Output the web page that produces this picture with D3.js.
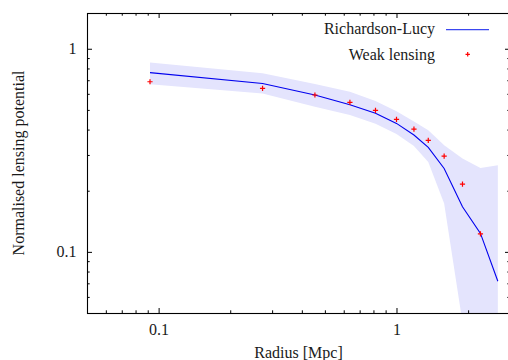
<!DOCTYPE html>
<html>
<head>
<meta charset="utf-8">
<script src="https://cdn.jsdelivr.net/npm/d3@7"></script>
<style>
  html, body { margin: 0; padding: 0; background: #fff; }
  svg { display: block; }
  svg text { font-family: 'Liberation Serif', 'Times New Roman', Times, 'DejaVu Serif', serif !important; fill: #1a1a1a; }
</style>
</head>
<body>
<svg id="chart" width="508" height="360"></svg>
<script>
// ---- data ----
const wlRadius = [0.092, 0.2735, 0.454, 0.637, 0.816, 1.0, 1.184, 1.36, 1.586, 1.894, 2.254];
const wlValue  = [0.688, 0.638, 0.592, 0.545, 0.497, 0.449, 0.402, 0.354, 0.296, 0.2156, 0.1227];

const rlRadius = [0.092, 0.2735, 0.454, 0.637, 0.816, 1.0, 1.184, 1.36, 1.586, 1.894, 2.254, 2.667];
const rlValue  = [0.763, 0.674, 0.592, 0.53, 0.482, 0.429, 0.376, 0.327, 0.2575, 0.1667, 0.1233, 0.0717];
const rlUpper  = [0.857, 0.757, 0.670, 0.614, 0.553, 0.492, 0.438, 0.397, 0.335, 0.288, 0.259, 0.267];
const rlLower  = [0.668, 0.603, 0.518, 0.472, 0.427, 0.38, 0.332, 0.277, 0.173, 0.045, 0.01, 0.01];

const xDomain = [0.05, 3];
const yDomain = [0.05, 1.5];
const xLabels = [0.1, 1];
const yLabels = [0.1, 1];
const seriesNames = ["Richardson-Lucy", "Weak lensing"];
const xTitle = "Radius [Mpc]";
const yTitle = "Normalised lensing potential";

// ---- layout ----
const FONT = "'Liberation Serif', 'Times New Roman', Times, 'DejaVu Serif', serif";
const FS = 16;
const L = 87, R = 510, T = 13, B = 313;
const svg = d3.select("#chart");

const x = d3.scaleLog().domain(xDomain).range([L, R]);
const y = d3.scaleLog().domain(yDomain).range([B, T]);

const isMajor = v => Math.abs(Math.log10(v) - Math.round(Math.log10(v))) < 1e-9;
const xTicks = x.ticks();
const yTicks = y.ticks();

svg.append("defs").append("clipPath").attr("id", "clip")
  .append("rect").attr("x", L).attr("y", T).attr("width", R - L).attr("height", B - T);

const plot = svg.append("g").attr("clip-path", "url(#clip)");

const bandData = rlRadius.map((r, i) => ({ r, lo: rlLower[i], hi: rlUpper[i], v: rlValue[i] }));

plot.append("path")
  .datum(bandData)
  .attr("fill", "#e4e4fd")
  .attr("d", d3.area().x(d => x(d.r)).y0(d => y(d.lo)).y1(d => y(d.hi)));

plot.append("path")
  .datum(bandData)
  .attr("fill", "none")
  .attr("stroke", "#0000ee")
  .attr("stroke-width", 1.1)
  .attr("d", d3.line().x(d => x(d.r)).y(d => y(d.v)));

const crossSize = 2.6;
function cross(g, cx, cy, s) {
  g.append("path")
    .attr("d", `M${cx - s},${cy}H${cx + s}M${cx},${cy - s}V${cy + s}`)
    .attr("stroke", "#ff0000")
    .attr("stroke-width", 1.2)
    .attr("fill", "none");
}
const pts = plot.append("g");
wlRadius.forEach((r, i) => cross(pts, x(r), y(wlValue[i]), crossSize));

// ---- axes ----
function styleTicks(g, majorLen, minorLen, dirAttr) {
  g.attr("font-family", FONT);
  g.select(".domain").remove();
  g.selectAll(".tick line")
    .attr("stroke", "#000")
    .attr(dirAttr, d => isMajor(d) ? majorLen : minorLen);
}

const gx = svg.append("g").attr("transform", `translate(0,${B})`)
  .call(d3.axisBottom(x).tickValues(xTicks).tickFormat(d => xLabels.includes(d) ? String(d) : ""));
styleTicks(gx, -5, -2.7, "y2");
gx.selectAll(".tick text").attr("y", 21.8).attr("dy", 0).attr("font-size", FS)
  .attr("font-family", FONT);

const gxt = svg.append("g").attr("transform", `translate(0,${T})`)
  .call(d3.axisTop(x).tickValues(xTicks).tickFormat(""));
styleTicks(gxt, 5, 2.7, "y2");

const gy = svg.append("g").attr("transform", `translate(${L},0)`)
  .call(d3.axisLeft(y).tickValues(yTicks).tickFormat(d => yLabels.includes(d) ? String(d) : ""));
styleTicks(gy, 5, 2.7, "x2");
gy.selectAll(".tick text").attr("x", -10.5).attr("dy", "0.32em").attr("font-size", FS)
  .attr("font-family", FONT);

const gyr = svg.append("g").attr("transform", `translate(${R},0)`)
  .call(d3.axisRight(y).tickValues(yTicks).tickFormat(""));
styleTicks(gyr, -5, -2.7, "x2");

svg.append("rect")
  .attr("x", L + 0.5).attr("y", T + 0.5)
  .attr("width", R - L).attr("height", B - T)
  .attr("fill", "none").attr("stroke", "#000").attr("stroke-width", 1.1);

// ---- titles ----
svg.append("text")
  .attr("x", (L + R) / 2).attr("y", 358)
  .attr("text-anchor", "middle")
  .attr("font-family", FONT).attr("font-size", FS)
  .text(xTitle);

svg.append("text")
  .attr("transform", `translate(23.5,${(T + B) / 2}) rotate(-90)`)
  .attr("text-anchor", "middle")
  .attr("font-family", FONT).attr("font-size", FS)
  .text(yTitle);

// ---- legend ----
const legend = svg.append("g").attr("font-family", FONT).attr("font-size", FS);
legend.append("text").attr("x", 435).attr("y", 34).attr("text-anchor", "end")
  .text(seriesNames[0]);
legend.append("line").attr("x1", 446).attr("x2", 489).attr("y1", 29.7).attr("y2", 29.7)
  .attr("stroke", "#3b48f0").attr("stroke-width", 1.2);
legend.append("text").attr("x", 435).attr("y", 59.5).attr("text-anchor", "end")
  .text(seriesNames[1]);
cross(legend, 467.7, 54.3, 2.2);
</script>
</body>
</html>
